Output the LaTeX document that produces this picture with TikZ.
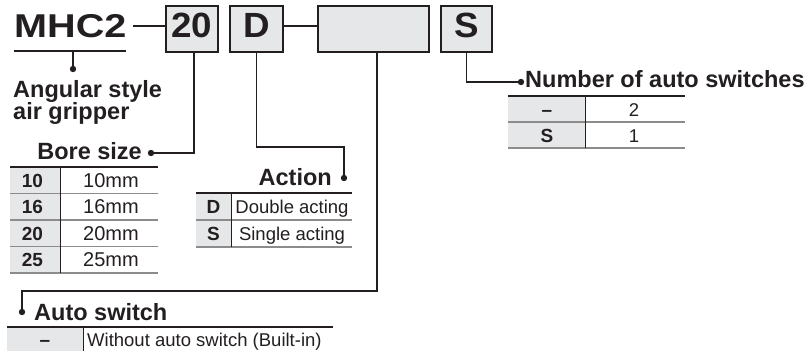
\documentclass[tikz,border=0pt]{standalone}
\usepackage{fontspec}
\setmainfont{Liberation Sans}
\newfontfamily\widefont[FakeStretch=1.2]{Liberation Sans}
\newfontfamily\boxfont[FakeStretch=1.05]{Liberation Sans}
\definecolor{ink}{HTML}{231F20}
\definecolor{boxgray}{HTML}{E6E7E8}
\definecolor{sepgray}{HTML}{8C8C8C}
\begin{document}
\begin{tikzpicture}[x=1pt,y=-1pt,line join=miter,
  ln/.style={draw=ink,line width=1.8pt},
  codebox/.style={draw=ink,line width=1.8pt,fill=boxgray,minimum height=46pt,inner sep=0pt,
    text height=24pt,text depth=8pt,font=\boxfont\bfseries\fontsize{35}{35}\selectfont,text=ink},
  head/.style={inner sep=0pt,font=\bfseries\fontsize{23.5}{23.5}\selectfont,text=ink},
  cellb/.style={inner sep=0pt,anchor=base,font=\bfseries\fontsize{19}{19}\selectfont,text=ink},
  cell/.style={inner sep=0pt,anchor=base,font=\fontsize{18.5}{18.5}\selectfont,text=ink},
  cellv/.style={inner sep=0pt,anchor=base,font=\fontsize{20}{20}\selectfont,text=ink},
  toprule/.style={draw=ink,line width=1.8pt},
  seprule/.style={draw=sepgray,line width=1.2pt},
  colrule/.style={draw=ink,line width=1pt},
  dotfill/.style={fill=ink}]
\useasboundingbox (0,0) rectangle (807,351);

% code boxes
\node[anchor=base west,inner sep=0pt,text=ink,font=\widefont\bfseries\fontsize{33}{33}\selectfont] (mhc) at (14,37) {MHC2};
\node[codebox,minimum width=52pt] (b20) at (192,29) {20};
\node[codebox,minimum width=53pt] (bD) at (256.5,29) {D};
\node[codebox,minimum width=111pt] (bsw) at (373.5,29) {};
\node[codebox,minimum width=51pt] (bS) at (466.5,29) {S};

% connectors between code parts
\coordinate (c1) at (133,26);
\draw[ln] (c1) -- (c1 -| b20.west);
\draw[ln] (bD.east |- c1) -- (bsw.west |- c1);

% MHC2 underline and label
\coordinate (ul1) at (14,51);
\coordinate (ul2) at (126,51);
\coordinate (ulm) at (73,51);
\coordinate (mdot) at (73,69);
\draw[ln] (ul1) -- (ul2);
\draw[ln] (ulm) -- (mdot);
\fill[dotfill] (mdot) circle[radius=3.2pt];
\node[head,anchor=base west] (ang1) at (13,97) {Angular style};
\node[head,anchor=base west] (ang2) at (13,119) {air gripper};

% bore size
\coordinate (bdot) at (151,153);
\draw[ln] (bdot) -| ([xshift=2pt]b20.south);
\fill[dotfill] (bdot) circle[radius=3.2pt];
\node[head,anchor=base east] (boreh) at (142,159) {Bore size};
\fill[boxgray] (10,167) rectangle (60,273);
\draw[seprule] (10,193.5) -- (158,193.5);
\draw[seprule] (10,220) -- (158,220);
\draw[seprule] (10,246.5) -- (158,246.5);
\draw[seprule] (10,273) -- (158,273);
\draw[colrule] (60,167) -- (60,273);
\draw[toprule] (10,167) -- (158,167);
\node[cellb] (bk1) at (32.5,187) {10};
\node[cellb] (bk2) at (32.5,213.5) {16};
\node[cellb] (bk3) at (32.5,240) {20};
\node[cellb] (bk4) at (32.5,266.5) {25};
\node[cellv] (bv1) at (111,187) {10mm};
\node[cellv] (bv2) at (111,213.5) {16mm};
\node[cellv] (bv3) at (111,240) {20mm};
\node[cellv] (bv4) at (111,266.5) {25mm};

% action
\coordinate (aturn) at (344,147);
\coordinate (adot) at (344,178);
\draw[ln] (bD.south) |- (aturn) -- (adot);
\fill[dotfill] (adot) circle[radius=3.2pt];
\node[head,anchor=base east] (acth) at (332,185) {Action};
\fill[boxgray] (196,193) rectangle (231,247);
\draw[seprule] (196,220) -- (352,220);
\draw[seprule] (196,247) -- (352,247);
\draw[colrule] (231,193) -- (231,247);
\draw[toprule] (196,193) -- (352,193);
\node[cellb] (ak1) at (213.5,213.3) {D};
\node[cellb] (ak2) at (213.5,240.3) {S};
\node[cell] (av1) at (292,213.3) {Double acting};
\node[cell] (av2) at (292,240.3) {Single acting};

% auto switch
\coordinate (swturn) at (22,291);
\coordinate (swdot) at (22,312);
\draw[ln] ([xshift=3.5pt]bsw.south) |- (swturn) -- (swdot);
\fill[dotfill] (swdot) circle[radius=3.2pt];
\node[head,anchor=base west] (swh) at (34,320) {Auto switch};
\fill[boxgray] (7,327) rectangle (83,351);
\draw[colrule] (83,327) -- (83,351);
\draw[toprule] (7,327) -- (333,327);
\node[cellb] (sk1) at (45,346.5) {–};
\node[cell,anchor=base west] (sv1) at (87,346.5) {Without auto switch (Built-in)};

% number of auto switches
\coordinate (ndot) at (521,82);
\draw[ln] (bS.south) |- (ndot);
\fill[dotfill] (ndot) circle[radius=3.2pt];
\node[head,anchor=base west] (numh) at (525,87) {Number of auto switches};
\fill[boxgray] (508,96) rectangle (585,148);
\draw[seprule] (508,122) -- (685,122);
\draw[seprule] (508,148) -- (685,148);
\draw[colrule] (585,96) -- (585,148);
\draw[toprule] (508,96) -- (685,96);
\node[cellb] (nk1) at (547,116) {–};
\node[cellb] (nk2) at (547,142) {S};
\node[cell] (nv1) at (634,116) {2};
\node[cell] (nv2) at (634,142) {1};
\end{tikzpicture}
\end{document}
